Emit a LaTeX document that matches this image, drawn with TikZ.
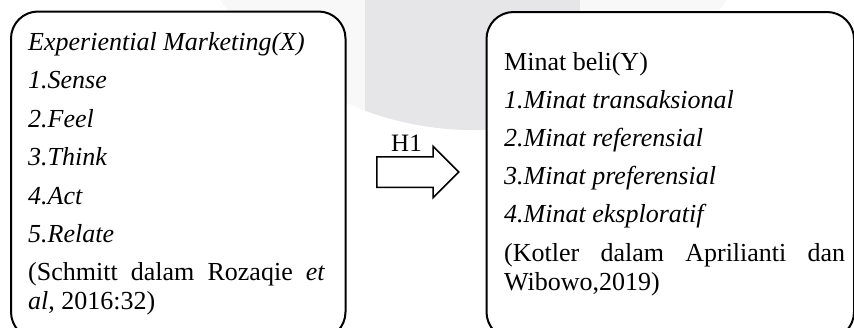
\documentclass[tikz,border=0pt]{standalone}
\usepackage{fontspec}
\setmainfont{Liberation Serif}
\usetikzlibrary{shapes.arrows}
\definecolor{logofaint}{HTML}{F8F8F9}
\definecolor{logogray}{HTML}{E6E6E8}
\tikzset{
  varbox/.style={draw=black, line width=2pt, rounded corners=27pt, fill=white,
    inner sep=0pt, anchor=north west},
  txt/.style={anchor=base west, inner sep=0pt, font=\fontsize{26}{29}\selectfont},
  itm/.style={txt, font=\fontsize{26}{29}\selectfont\itshape},
  hyparrow/.style={single arrow, draw=black, line width=1.5pt, fill=white,
    inner sep=0pt, minimum height=82pt, single arrow head extend=10.5pt}
}
\begin{document}
\begin{tikzpicture}[x=1pt, y=-1pt]
\useasboundingbox (0,0) rectangle (854,327);
\clip (0,0) rectangle (854,327);
% faint logo watermark behind the boxes
\fill[logofaint] (473.5,-182) circle (312pt);
\begin{scope}
  \clip (473.5,-182) circle (312pt);
  \fill[logogray] (365,-10) rectangle (580,400);
\end{scope}

% variable X
\node[varbox, minimum width=334.5pt, minimum height=327.5pt] (xbox) at (10,10.5) {};
\node[itm] (xtitle) at (28,50) {Experiential Marketing(X)};
\node[itm] (x1) at (28,88.5) {1.Sense};
\node[itm] (x2) at (28,127) {2.Feel};
\node[itm] (x3) at (28,165.5) {3.Think};
\node[itm] (x4) at (28,204) {4.Act};
\node[itm] (x5) at (28,242.5) {5.Relate};
\node[txt] (xref1) at (28,280.5) {\makebox[297pt][s]{(Schmitt dalam Rozaqie \textit{et}}};
\node[txt] (xref2) at (28,309.5) {\textit{al}, 2016:32)};

% variable Y
\node[varbox, minimum width=367.5pt, minimum height=327pt] (ybox) at (485.5,11) {};
\node[txt] (ytitle) at (504,70.5) {Minat beli(Y)};
\node[itm] (y1) at (504,108.5) {1.Minat transaksional};
\node[itm] (y2) at (504,146.5) {2.Minat referensial};
\node[itm] (y3) at (504,184.5) {3.Minat preferensial};
\node[itm] (y4) at (504,222.5) {4.Minat eksploratif};
\node[txt] (yref1) at (504,261.5) {\makebox[341pt][s]{(Kotler dalam Aprilianti dan}};
\node[txt] (yref2) at (504,290.5) {Wibowo,2019)};

% hypothesis arrow: the strut sets the shaft width
\node[hyparrow, anchor=tail] (h1arrow) at (376,172) {\rule{0pt}{29pt}};
\node[anchor=base, inner sep=0pt, font=\fontsize{25}{28}\selectfont] (h1) at (406.5,151.5) {H1};
\end{tikzpicture}
\end{document}
